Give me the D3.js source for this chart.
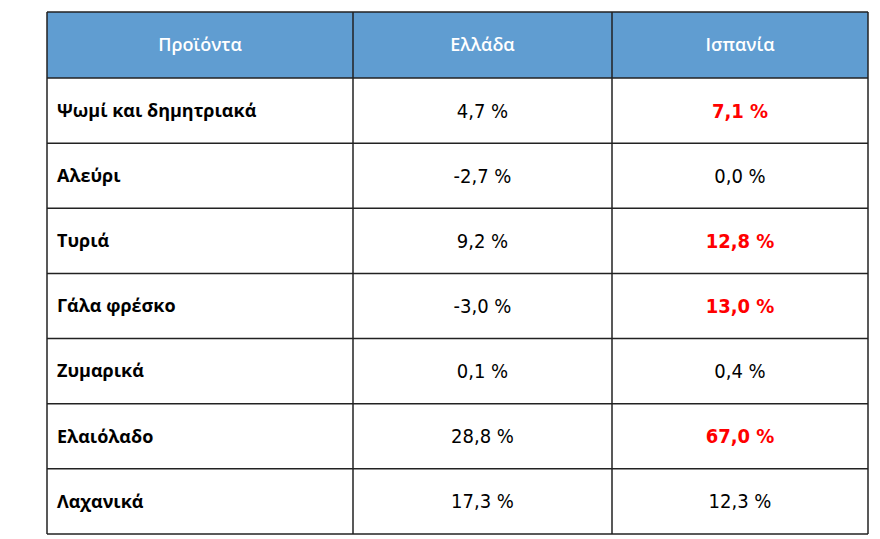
<!DOCTYPE html>
<html><head><meta charset="utf-8">
<script src="https://cdn.jsdelivr.net/npm/d3@7"></script>
<style>body{margin:0;background:#fff}</style>
</head><body><svg width="880" height="539"></svg>
<script>
const headers = ['Προϊόντα', 'Ελλάδα', 'Ισπανία'];
const products = ['Ψωμί και δημητριακά', 'Αλεύρι', 'Τυριά', 'Γάλα φρέσκο', 'Ζυμαρικά', 'Ελαιόλαδο', 'Λαχανικά'];
const greece = [4.7, -2.7, 9.2, -3.0, 0.1, 28.8, 17.3];
const spain = [7.1, 0.0, 12.8, 13.0, 0.4, 67.0, 12.3];
const spainHighlight = [true, false, true, true, false, true, false];

const svg = d3.select('svg');
const colEdges = [47, 353, 612, 868];
const tableTop = 12, headH = 66, tableBottom = 534;
const y = d3.scaleBand().domain(d3.range(products.length)).range([tableTop + headH, tableBottom]);
const fmt = v => v.toFixed(1).replace('.', ',') + ' %';
const numFont = '"Liberation Sans Narrow", "DejaVu Sans Condensed", sans-serif';

svg.append('rect').attr('x', colEdges[0]).attr('y', tableTop)
  .attr('width', colEdges[3] - colEdges[0]).attr('height', headH).attr('fill', '#609dd1');

headers.forEach((h, i) => {
  svg.append('text').attr('x', (colEdges[i] + colEdges[i + 1]) / 2).attr('y', tableTop + headH / 2)
    .attr('dy', '0.35em').attr('text-anchor', 'middle').attr('fill', '#fff')
    .attr('font-family', 'Open Sans').attr('font-weight', 600).attr('font-size', 18).text(h);
});

const rows = svg.selectAll('g.row').data(products).join('g').attr('class', 'row')
  .attr('transform', (d, i) => `translate(0,${y(i) + y.bandwidth() / 2})`);

rows.append('text').attr('x', 57).attr('dy', '0.35em')
  .attr('font-family', 'Open Sans').attr('font-weight', 700).attr('font-size', 18)
  .attr('fill', '#000').text(d => d);

rows.append('text').attr('x', (colEdges[1] + colEdges[2]) / 2).attr('dy', '0.35em')
  .attr('text-anchor', 'middle').attr('font-family', numFont).attr('font-size', 20)
  .attr('fill', '#000').text((d, i) => fmt(greece[i]));

rows.append('text').attr('x', (colEdges[2] + colEdges[3]) / 2).attr('dy', '0.35em')
  .attr('text-anchor', 'middle').attr('font-family', numFont).attr('font-size', 20)
  .attr('font-weight', (d, i) => spainHighlight[i] ? 700 : 400)
  .attr('fill', (d, i) => spainHighlight[i] ? '#ff0000' : '#000')
  .text((d, i) => fmt(spain[i]));

// grid lines
const lines = svg.append('g').attr('stroke', '#222').attr('stroke-width', 1.5);
[tableTop, tableTop + headH, ...d3.range(1, products.length).map(i => y(i)), tableBottom].forEach(v => {
  lines.append('line').attr('x1', colEdges[0]).attr('x2', colEdges[3]).attr('y1', v).attr('y2', v);
});
colEdges.forEach(v => {
  lines.append('line').attr('x1', v).attr('x2', v).attr('y1', tableTop).attr('y2', tableBottom);
});
</script></body></html>
